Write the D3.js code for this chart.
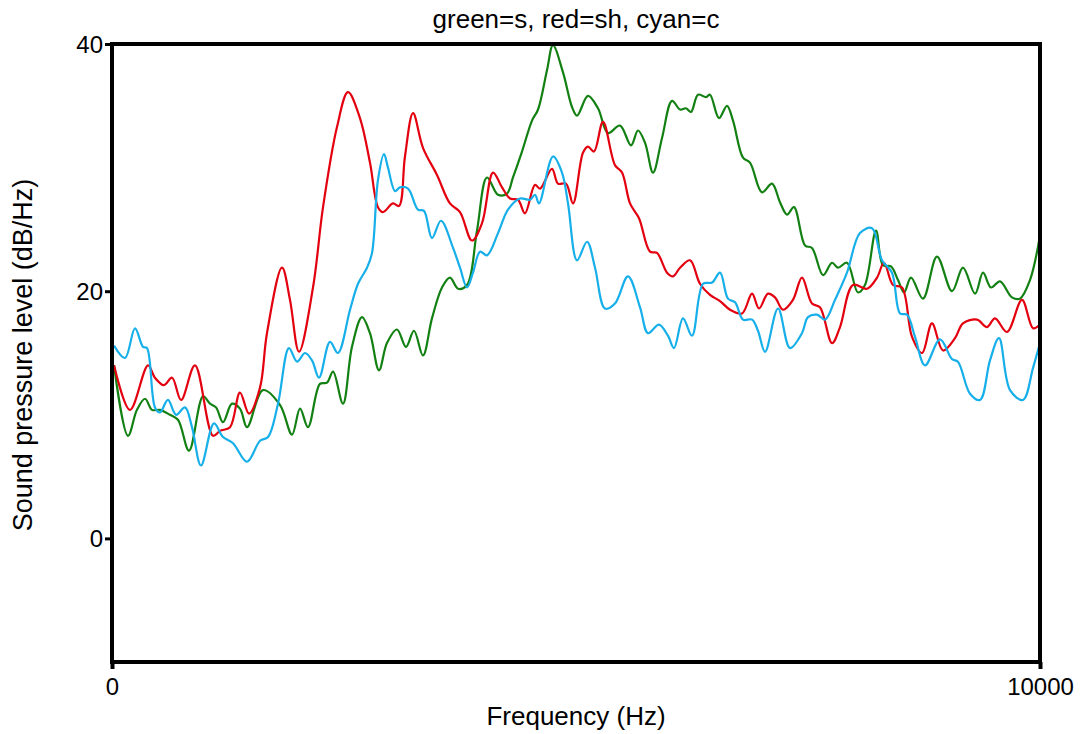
<!DOCTYPE html>
<html>
<head>
<meta charset="utf-8">
<script src="https://cdn.jsdelivr.net/npm/d3@7"></script>
<style>
  html, body { margin: 0; padding: 0; background: #fff; }
  svg { display: block; font-family: "Liberation Sans", Arial, sans-serif; }
</style>
</head>
<body>
<svg id="chart" width="1081" height="734"></svg>
<script>
const chartTitle = "green=s, red=sh, cyan=c";
const xLabel = "Frequency (Hz)";
const yLabel = "Sound pressure level (dB/Hz)";
const xTicks = [0, 10000];
const yTicks = [0, 20, 40];

// s (green): [frequency Hz, dB/Hz]
const sFreq = [22,172,269,356,431,517,625,711,830,981,1056,1121,1196,1293,1379,1455,1627,1810,1940,2026,2112,2241,2317,2382,2489,2586,2694,2780,2877,2963,3071,3168,3254,3351,3448,3556,3642,3729,3826,3933,4041,4160,4256,4321,4418,4526,4591,4688,4752,4860,4957,5011,5129,5237,5345,5474,5593,5668,5744,5830,5927,6035,6121,6185,6239,6315,6401,6444,6541,6627,6692,6800,6875,7004,7112,7198,7274,7349,7468,7543,7662,7759,7823,7920,8039,8114,8233,8308,8394,8470,8535,8610,8739,8890,9052,9170,9300,9386,9472,9569,9698,9784,9892,10000];
const sDb = [14.0,8.3,10.4,11.3,10.4,10.4,10.0,9.6,7.1,11.5,10.9,10.6,9.4,10.9,10.5,9.0,12.0,10.8,8.4,10.5,9.0,12.5,12.6,13.5,10.9,15.5,17.9,16.6,13.6,15.8,16.9,15.5,16.8,14.8,17.8,20.3,21.1,20.2,20.5,24.9,29.2,27.8,27.9,29.2,31.3,33.8,34.7,37.9,39.9,37.7,34.9,34.2,35.8,34.8,32.8,33.4,31.8,33.0,32.0,29.6,32.4,35.4,34.7,34.8,34.5,35.9,35.7,35.9,34.0,35.0,33.8,30.8,30.4,28.0,28.7,27.2,26.2,26.8,23.7,23.5,21.3,22.3,21.9,22.3,19.9,20.5,24.9,22.1,22.0,20.9,19.9,21.1,19.4,22.8,20.0,21.9,19.8,21.5,20.3,20.8,19.5,19.4,20.9,24.5];

// sh (red)
const shFreq = [22,194,388,463,560,647,744,894,1088,1164,1272,1379,1476,1595,1670,1832,1918,2015,2166,2274,2425,2543,2672,2780,2866,2920,3028,3093,3157,3244,3351,3502,3642,3750,3879,3987,4106,4203,4289,4375,4450,4558,4612,4741,4806,4892,4968,5075,5129,5194,5291,5420,5496,5582,5679,5797,5873,5981,6045,6121,6229,6336,6444,6552,6660,6789,6897,6972,7069,7144,7231,7338,7435,7543,7629,7759,7845,7985,8136,8244,8319,8416,8513,8621,8729,8836,8955,9084,9170,9321,9429,9515,9644,9806,9925,10000];
const shDb = [14.0,10.4,14.0,13.0,12.4,13.0,11.2,14.0,8.3,8.7,9.0,11.8,10.1,12.2,16.6,21.9,19.3,15.1,20.3,26.8,33.3,36.1,34.0,30.4,26.8,26.4,27.1,26.9,30.9,34.4,31.6,29.4,27.1,26.4,24.1,25.5,29.6,28.4,27.5,27.4,26.3,28.6,28.3,29.9,28.7,28.7,27.1,31.2,31.7,31.3,33.7,30.2,29.6,27.1,25.9,23.2,23.1,21.5,21.2,21.9,22.5,20.6,19.7,19.2,18.5,18.2,19.8,18.6,19.8,19.5,18.5,19.3,21.1,19.0,18.7,15.8,17.1,20.5,20.2,21.1,22.3,20.5,20.3,16.3,15.0,17.4,15.2,16.2,17.4,17.7,17.1,17.8,16.7,19.3,17.0,17.3];

// c (cyan)
const cFreq = [22,140,248,334,377,463,517,603,690,787,862,959,1099,1196,1304,1455,1595,1681,1789,1907,1994,2080,2155,2231,2349,2435,2565,2651,2748,2802,2866,2931,2974,3050,3103,3190,3297,3362,3448,3545,3675,3750,3826,3890,3966,4041,4160,4267,4397,4504,4558,4601,4752,4849,4914,5011,5119,5205,5313,5420,5560,5690,5776,5894,5991,6056,6153,6250,6369,6466,6552,6638,6714,6800,6897,6961,7037,7177,7306,7435,7500,7597,7683,7791,7920,8060,8190,8297,8405,8492,8567,8653,8761,8923,9052,9116,9246,9354,9461,9558,9677,9817,9925,10000];
const cDb = [15.6,14.6,17.0,15.5,15.4,10.6,10.2,11.2,10.0,10.6,9.0,5.9,9.3,8.2,7.7,6.2,7.9,8.2,10.9,15.4,14.3,15.0,14.4,13.0,15.9,15.0,18.5,20.6,21.9,23.1,29.0,31.1,30.0,28.1,28.4,28.3,26.6,26.5,24.3,25.7,23.5,21.9,20.3,21.5,23.2,22.9,24.7,26.6,27.5,27.4,27.8,27.1,30.9,29.6,27.1,22.5,24.0,21.9,18.6,19.0,21.2,18.7,16.6,17.3,16.4,15.4,17.8,16.4,20.6,20.7,21.5,19.4,19.1,17.7,17.7,16.8,15.1,18.6,15.4,16.6,17.9,18.1,17.7,19.3,21.5,24.7,25.1,22.5,21.5,18.2,18.1,16.3,14.0,16.1,14.5,14.3,11.7,11.2,14.4,16.2,12.0,11.2,13.8,15.8];

const series = [
  { name: "s", freq: sFreq, db: sDb, color: "#128012" },
  { name: "sh", freq: shFreq, db: shDb, color: "#e3000f" },
  { name: "c", freq: cFreq, db: cDb, color: "#17afe9" }
];

const svg = d3.select("#chart");
const pLeft = 112, pRight = 1040, pTop = 44, pBottom = 662;
const x = d3.scaleLinear().domain([0, 10000]).range([pLeft, pRight]);
const y = d3.scaleLinear().domain([-10, 40]).range([pBottom, pTop]);

svg.append("defs").append("clipPath").attr("id", "clip")
  .append("rect").attr("x", pLeft).attr("y", pTop - 2).attr("width", pRight - pLeft).attr("height", pBottom - pTop + 2);

const line = d3.line()
  .x(d => x(d[0]))
  .y(d => y(d[1]))
  .curve(d3.curveCatmullRom.alpha(0.5));

const g = svg.append("g").attr("clip-path", "url(#clip)");
series.forEach(s => {
  const pts = s.freq.map((f, i) => [f, s.db[i]]);
  g.append("path")
    .attr("d", line(pts))
    .attr("fill", "none")
    .attr("stroke", s.color)
    .attr("stroke-width", 2.2)
    .attr("stroke-linejoin", "round");
});

// frame
svg.append("rect")
  .attr("x", pLeft).attr("y", pTop)
  .attr("width", pRight - pLeft).attr("height", pBottom - pTop)
  .attr("fill", "none").attr("stroke", "#000").attr("stroke-width", 4);

// y axis ticks
const yAxis = d3.axisLeft(y).tickValues(yTicks).tickSize(7).tickPadding(2).tickFormat(d3.format("d"));
const ya = svg.append("g").attr("transform", `translate(${pLeft},0)`).call(yAxis);
ya.select(".domain").remove();
ya.selectAll(".tick line").attr("stroke", "#000").attr("stroke-width", 3);
ya.selectAll(".tick text").attr("font-size", 24).attr("fill", "#000")
  .attr("font-family", "'Liberation Sans', Arial, sans-serif").attr("dy", "0.35em");

// x axis ticks
const xAxis = d3.axisBottom(x).tickValues(xTicks).tickSize(7).tickPadding(9).tickFormat(d3.format("d"));
const xa = svg.append("g").attr("transform", `translate(0,${pBottom})`).call(xAxis);
xa.select(".domain").remove();
xa.selectAll(".tick line").attr("stroke", "#000").attr("stroke-width", 4);
xa.selectAll(".tick text").attr("font-size", 24).attr("fill", "#000")
  .attr("font-family", "'Liberation Sans', Arial, sans-serif");

// titles
svg.append("text").attr("x", 576).attr("y", 28).attr("text-anchor", "middle")
  .attr("font-size", 26).text(chartTitle);
svg.append("text").attr("x", 576).attr("y", 725).attr("text-anchor", "middle")
  .attr("font-size", 26).text(xLabel);
svg.append("text").attr("transform", "translate(32,355) rotate(-90)").attr("text-anchor", "middle")
  .attr("font-size", 27).text(yLabel);
</script>
</body>
</html>
